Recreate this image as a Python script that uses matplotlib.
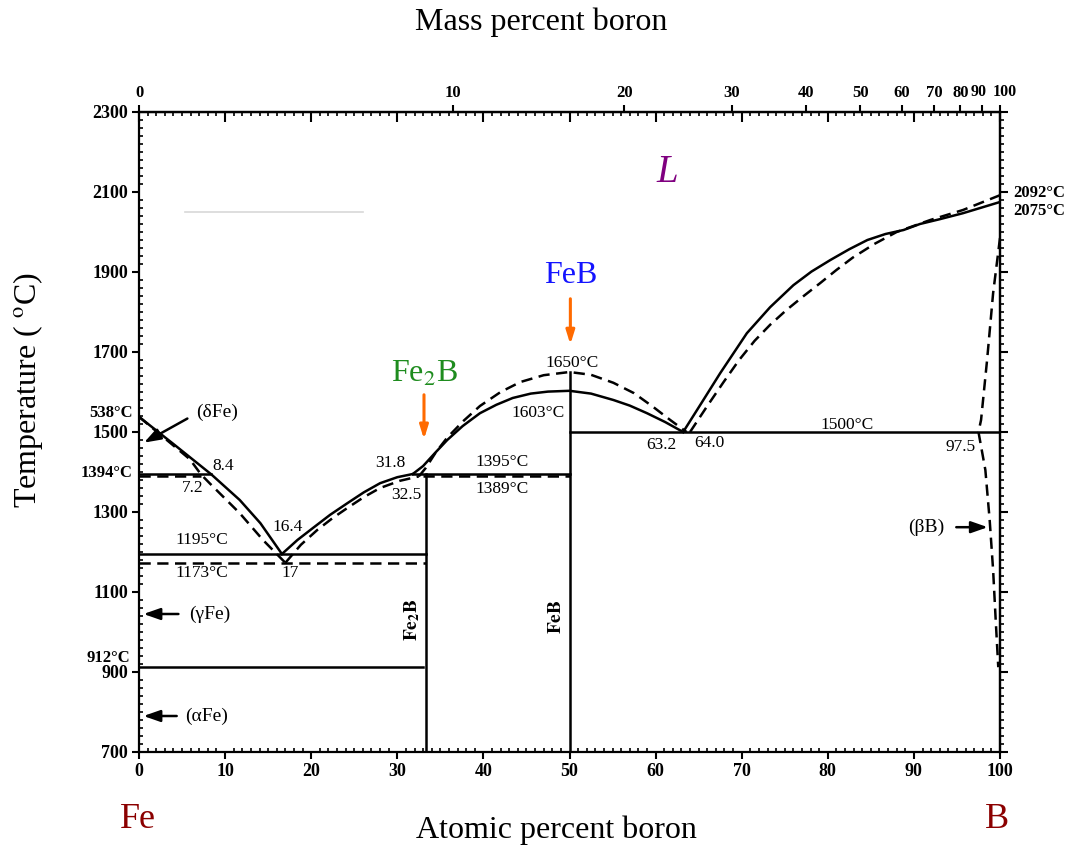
"""Fe-B phase diagram: current assessment (solid) vs. older data (dashed)."""
import numpy as np
import matplotlib
matplotlib.use('Agg')
import matplotlib.pyplot as plt

plt.rcParams['font.family'] = 'Liberation Serif'
plt.rcParams['mathtext.fontset'] = 'stix'

# ---- liquidus / solvus curves, (at.% B, T in degC) ----
# solid lines
liq_dfe = [(0, 1538), (4.0, 1470), (8.4, 1394), (11.7, 1330), (14.1, 1272), (16.6, 1195)]
liq_fe2b = [(16.6, 1195), (18.4, 1230), (20.2, 1260), (22.2, 1293), (24.2, 1322),
            (26.1, 1349), (28.0, 1372), (30.0, 1387), (31.8, 1395)]
liq_feb = [(31.8, 1395), (33.0, 1415), (34.4, 1448), (35.8, 1480), (37.6, 1515),
           (39.6, 1547), (41.5, 1568), (43.4, 1585), (45.5, 1596), (47.5, 1601),
           (50.0, 1603), (52.5, 1596), (55.1, 1580), (57.0, 1566), (59.0, 1547),
           (61.1, 1525), (63.2, 1500)]
liq_b = [(63.2, 1500), (65.4, 1575), (67.5, 1647), (70.6, 1747), (73.3, 1812),
         (76.0, 1867), (78.1, 1901), (80.3, 1930), (82.5, 1957), (84.6, 1980),
         (86.7, 1995), (88.8, 2005), (90.7, 2020), (93.0, 2032), (95.7, 2047), (100, 2075)]

# dashed lines (older data)
liq_dfe_old = [(0, 1538), (5.9, 1432), (7.2, 1394), (8.2, 1372), (11.7, 1297),
               (14.4, 1230), (17.0, 1173)]
liq_fe2b_old = [(17.0, 1173), (18.8, 1218), (20.7, 1255), (22.5, 1285), (24.2, 1310),
                (26.1, 1337), (28.0, 1360), (30.3, 1378), (32.5, 1389)]
liq_feb_old = [(32.5, 1389), (33.3, 1410), (34.5, 1450), (35.8, 1486), (37.7, 1528),
               (39.6, 1565), (42.0, 1600), (44.3, 1625), (47.0, 1642), (50.0, 1650),
               (52.5, 1643), (55.1, 1623), (57.5, 1597), (59.7, 1563), (61.7, 1530),
               (63.6, 1500)]
liq_b_old = [(64.0, 1500), (66.0, 1565), (67.9, 1625), (69.7, 1680), (71.5, 1728),
             (73.3, 1768), (75.2, 1805), (77.2, 1840), (79.1, 1872), (81.0, 1905),
             (82.9, 1936), (85.4, 1970), (88.0, 2000), (91.9, 2030), (95.7, 2055), (100, 2092)]
solvus_bb_old = [(100, 1985), (99.2, 1847), (98.5, 1680), (97.8, 1530), (97.5, 1500),
                 (98.3, 1405), (98.8, 1280), (99.2, 1155), (99.5, 1030), (99.8, 912)]

# invariant lines: (x_start, x_end, T)
iso_solid = [(0, 8.4, 1394), (0, 33.3, 1195), (0, 33.0, 912), (31.8, 50, 1395), (50, 100, 1500)]
iso_dashed = [(0, 7.2, 1391), (0, 33.3, 1173), (33.0, 50, 1389)]

# compounds: (composition, top temperature)
compounds = [(33.3, 1395), (50.0, 1650)]

# top axis: mass percent boron
mass_ticks = [0, 10, 20, 30, 40, 50, 60, 70, 80, 90, 100]
M_B, M_FE = 10.81, 55.845


def mass_to_at(w):
    w = np.asarray(w, dtype=float)
    nb = w / M_B
    nfe = (100 - w) / M_FE
    return 100 * nb / (nb + nfe)


fig = plt.figure(figsize=(10.78, 8.52), dpi=100)
ax = fig.add_axes([139 / 1078, 100 / 852, 861 / 1078, 640 / 852])
ax.set_xlim(0, 100)
ax.set_ylim(700, 2300)

lw = 1.8
dash = (0, (4.5, 2.6))
for curve in [liq_dfe, liq_fe2b, liq_feb, liq_b]:
    c = np.array(curve)
    ax.plot(c[:, 0], c[:, 1], color='black', lw=lw, solid_joinstyle='round')
for curve in [liq_dfe_old, liq_fe2b_old, liq_feb_old, liq_b_old, solvus_bb_old]:
    c = np.array(curve)
    ax.plot(c[:, 0], c[:, 1], color='black', lw=lw, linestyle=dash)
for x0, x1, t in iso_solid:
    ax.plot([x0, x1], [t, t], color='black', lw=lw)
for x0, x1, t in iso_dashed:
    ax.plot([x0, x1], [t, t], color='black', lw=lw, linestyle=dash)
for xc, ttop in compounds:
    ax.plot([xc, xc], [700, ttop], color='black', lw=lw)

# faint scan streak
ax.plot([5.3, 26.0], [2050, 2050], color='#d8d8d8', lw=1.2)

# ---- axes / ticks ----
for s in ax.spines.values():
    s.set_linewidth(1.6)
ax.set_xticks(range(0, 101, 10))
ax.set_xticks(range(0, 101, 1), minor=True)
ax.set_yticks(range(700, 2301, 200))
ax.set_yticks(range(700, 2301, 20), minor=True)
ax.tick_params(which='major', direction='out', length=5, width=1.5, labelsize=13, pad=3)
ax.tick_params(which='minor', direction='in', length=3, width=1.2)
for lbl in ax.get_xticklabels() + ax.get_yticklabels():
    lbl.set_fontweight('bold')

top_at = ax.secondary_xaxis('top')
top_at.set_xticks(range(0, 101, 10))
top_at.set_xticks(range(0, 101, 1), minor=True)
top_at.tick_params(which='major', direction='in', length=7, width=1.5, labeltop=False)
top_at.tick_params(which='minor', direction='in', length=3, width=1.2)
top_at.spines['top'].set_linewidth(1.6)

# the last two mass labels sit nearly on top of each other, so they are
# placed by hand with a small offset
crowded = {90: -3, 100: 5}
top_mass = ax.secondary_xaxis('top')
top_mass.set_xticks(mass_to_at(mass_ticks),
                    labels=['' if m in crowded else str(m) for m in mass_ticks])
top_mass.set_xticks([], minor=True)
top_mass.tick_params(which='major', direction='out', length=5, width=1.5,
                     labelsize=12, pad=3)
for lbl in top_mass.get_xticklabels():
    lbl.set_fontweight('bold')
for m, dx in crowded.items():
    xpix = 139 + float(mass_to_at(m)) * 8.61 + dx
    fig.text(xpix / 1078, 1 - 92 / 852, str(m), ha='center', va='center',
             fontsize=11.5, fontweight='bold')

right = ax.secondary_yaxis('right')
right.set_yticks(range(700, 2301, 200), labels=[])
right.set_yticks(range(700, 2301, 20), minor=True)
right.tick_params(which='major', direction='out', length=6, width=1.5)
right.tick_params(which='minor', direction='out', length=3, width=1.2)
right.spines['right'].set_linewidth(1.6)

# ---- axis titles ----
fig.text(541 / 1078, 1 - 22 / 852, 'Mass percent boron', ha='center', va='center', fontsize=23)
fig.text(556 / 1078, 1 - 830 / 852, 'Atomic percent boron', ha='center', va='center', fontsize=23)
fig.text(28 / 1078, 1 - 390 / 852, r'Temperature ( $^\mathrm{o}$C)', ha='center', va='center',
         rotation=90, fontsize=23)
fig.text(138 / 1078, 1 - 820 / 852, 'Fe', ha='center', va='center', fontsize=26, color='#8b0000')
fig.text(997 / 1078, 1 - 820 / 852, 'B', ha='center', va='center', fontsize=26, color='#8b0000')

# ---- phase and compound labels ----
ax.text(61.3, 2150, 'L', ha='center', va='center', fontsize=28, style='italic', color='#800080')
ax.text(50.1, 1892, 'FeB', ha='center', va='center', fontsize=23, color='#1414ff')
ax.text(33.1, 1645, r'Fe$_2$B', ha='center', va='center', fontsize=23, color='#1e8c1e')
orange = '#ff6a00'
ax.annotate('', xy=(50.1, 1712), xytext=(50.1, 1840),
            arrowprops=dict(arrowstyle='-|>,head_width=0.25,head_length=0.8', color=orange, lw=2.2))
ax.annotate('', xy=(33.1, 1475), xytext=(33.1, 1600),
            arrowprops=dict(arrowstyle='-|>,head_width=0.25,head_length=0.8', color=orange, lw=2.2))

ax.text(31.7, 1030, r'$\mathbf{Fe_2B}$', ha='center', va='center', fontsize=14, rotation=90)
ax.text(48.5, 1037, r'$\mathbf{FeB}$', ha='center', va='center', fontsize=14, rotation=90)

blk = dict(arrowstyle='-|>,head_width=0.35,head_length=1.0', color='black', lw=1.8)
ax.text(9.1, 1550, '(δFe)', ha='center', va='center', fontsize=14)
ax.annotate('', xy=(0.3, 1470), xytext=(5.9, 1537), arrowprops=blk)
ax.text(8.2, 1045, '(γFe)', ha='center', va='center', fontsize=14)
ax.annotate('', xy=(0.2, 1045), xytext=(4.9, 1045), arrowprops=blk)
ax.text(7.8, 790, '(αFe)', ha='center', va='center', fontsize=14)
ax.annotate('', xy=(0.2, 790), xytext=(4.7, 790), arrowprops=blk)
ax.text(91.4, 1262, '(βB)', ha='center', va='center', fontsize=14)
ax.annotate('', xy=(98.9, 1262), xytext=(94.6, 1262), arrowprops=blk)

# composition / temperature annotations
notes = [
    (9.8, 1415, '8.4'), (6.2, 1360, '7.2'), (17.3, 1262, '16.4'), (17.5, 1147, '17'),
    (7.3, 1230, '1195°C'), (7.3, 1147, '1173°C'), (29.2, 1422, '31.8'), (31.1, 1342, '32.5'),
    (42.2, 1425, '1395°C'), (42.2, 1357, '1389°C'), (46.3, 1547, '1603°C'),
    (50.3, 1672, '1650°C'), (60.7, 1467, '63.2'), (66.3, 1472, '64.0'),
    (82.2, 1517, '1500°C'), (95.4, 1462, '97.5'),
]
for x, t, s in notes:
    ax.text(x, t, s, ha='center', va='center', fontsize=12.5)

side = [(-0.7, 1547, '538°C', 'right'), (-0.7, 1397, '1394°C', 'right'),
        (-1.0, 935, '912°C', 'right'), (1.5, 2097, '2092°C', 'left'),
        (1.5, 2052, '2075°C', 'left')]
for x, t, s, ha in side:
    xx = x if ha == 'right' else 100 + x
    ax.text(xx, t, s, ha=ha, va='center', fontsize=12, fontweight='bold', clip_on=False)

fig.savefig('out.png', dpi=100)
